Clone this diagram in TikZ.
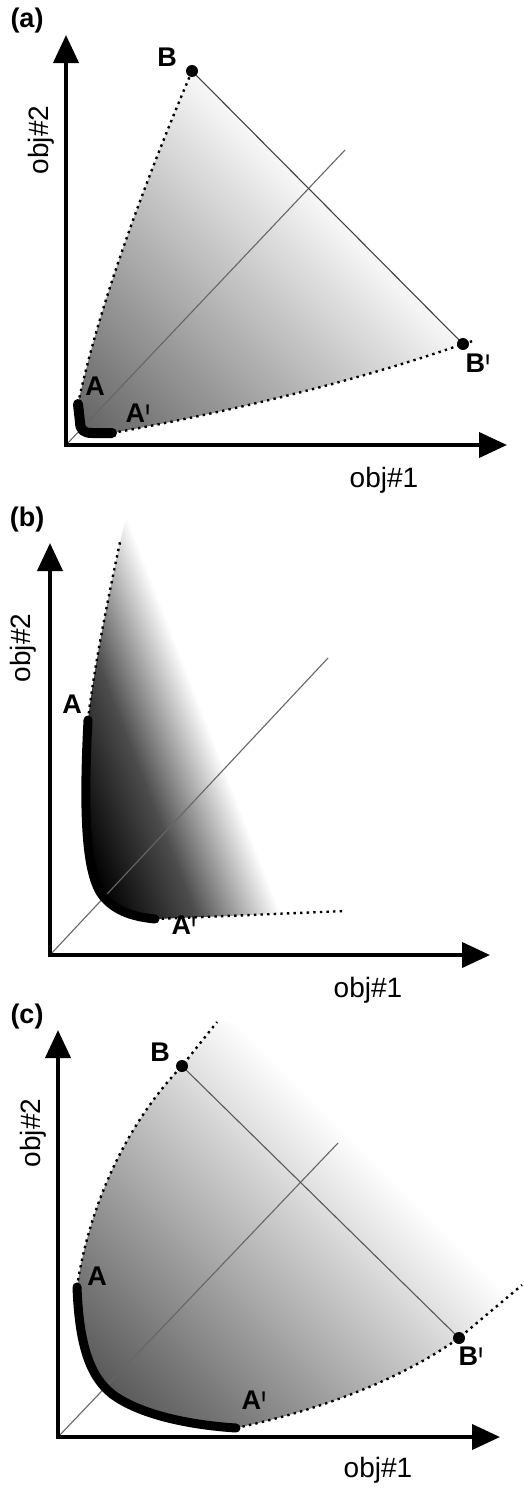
\documentclass[tikz,border=0pt]{standalone}
\usepackage{fontspec}
\usepackage{graphicx}
\setmainfont{Liberation Sans}
\usetikzlibrary{arrows.meta}
\newcommand\pmk{{\mdseries\raisebox{-0.5em}{\scalebox{1}[1.7]{\textquotesingle}}}}
\tikzset{
  axis/.style={line width=4pt,{Triangle[width=25pt,length=28pt]}-{Triangle[width=25pt,length=28pt]}},
  pareto/.style={line width=9pt,line cap=round,line join=round,black},
  bound/.style={line width=2.4pt,black,dash pattern=on 2.4pt off 4.2pt},
  guide/.style={line width=1.1pt,black!60},
  bdot/.style={circle,fill=black,inner sep=0pt,minimum size=12pt},
  lab/.style={font=\fontsize{27}{27}\selectfont\bfseries,inner sep=0pt},
  objlab/.style={font=\fontsize{28}{28}\selectfont,inner sep=0pt}
}
\begin{document}
\begin{tikzpicture}[x=1pt,y=-1pt]
\useasboundingbox (0,0) rectangle (523,1491);
% (a)
\coordinate (o1) at (66,445);
\coordinate (Y1) at (66,35);
\coordinate (X1) at (507,445);
\coordinate (A1) at (78,404);
\coordinate (A1p) at (112,433);
\coordinate (B1) at (192,71);
\coordinate (B1p) at (463,344);
\coordinate (E1) at (473,341);
\coordinate (D1) at (345,150);
\begin{scope}
\clip (A1) .. controls (100,300) and (150,170) .. (B1) -- (B1p) .. controls (360,380) and (230,412) .. (A1p) -- (92,433) .. controls (84,433) and (80,430) .. (80,422) -- cycle;
\shade[transform canvas={shift={(o1)},rotate=45},left color=black!65,right color=white] (0,-500) rectangle (370,500);
\end{scope}
\draw[guide] (o1) -- (D1);
\draw[guide,black!75] (B1) -- (B1p);
\draw[bound] (A1) .. controls (100,300) and (150,170) .. (B1);
\draw[bound] (A1p) .. controls (230,412) and (360,380) .. (B1p) -- (E1);
\draw[pareto,line width=10pt] (A1) -- (80,422) .. controls (80,430) and (84,433) .. (92,433) -- (A1p);
\draw[axis] (Y1) |- (X1);
\node[bdot] (b1) at (B1) {};
\node[bdot] (b1p) at (B1p) {};
\node[lab] (tA1) at (95,386) {A};
\node[lab] (tA1p) at (138,420) {A\pmk};
\node[lab] (tB1) at (167,57) {B};
\node[lab] (tB1p) at (478,370) {B\pmk};
\node[lab] (pa) at (27,21) {(a)};
\node[objlab] (f1a) at (384,480) {obj\#1};
\node[objlab,rotate=90] (f2a) at (41,140) {obj\#2};
% (b)
\coordinate (o2) at (50,955);
\coordinate (Y2) at (50,543);
\coordinate (X2) at (490,955);
\coordinate (A2) at (88,720);
\coordinate (A2p) at (155,919);
\coordinate (T2) at (120,542);
\coordinate (E2) at (345,911);
\coordinate (D2) at (328,658);
\begin{scope}
\clip (127,515) -- (T2) .. controls (110,590) and (95,660) .. (A2) .. controls (84,800) and (84,870) .. (102,895) .. controls (115,912) and (135,917) .. (A2p) -- (E2) -- (345,515) -- cycle;
\shade[transform canvas={shift={(127,517)},rotate=201.2},left color=white,right color=black,middle color=black!70] (0,-700) rectangle (160,700);
\fill[transform canvas={shift={(127,517)},rotate=201.2},black] (159,-700) rectangle (400,700);
\end{scope}
\draw[guide] (o2) -- (D2);
\draw[bound] (A2) .. controls (95,660) and (110,590) .. (T2);
\draw[bound] (A2p) -- (E2);
\draw[pareto] (A2) .. controls (84,800) and (84,870) .. (102,895) .. controls (115,912) and (135,917) .. (A2p);
\draw[axis] (Y2) |- (X2);
\node[lab] (tA2) at (72,704) {A};
\node[lab] (tA2p) at (184,932) {A\pmk};
\node[lab] (pb) at (27,520) {(b)};
\node[objlab] (f1b) at (368,990) {obj\#1};
\node[objlab,rotate=90] (f2b) at (23,648) {obj\#2};
% (c)
\coordinate (o3) at (58,1437);
\coordinate (Y3) at (58,1030);
\coordinate (X3) at (500,1437);
\coordinate (A3) at (77,1287);
\coordinate (A3p) at (236,1428);
\coordinate (B3) at (182,1066);
\coordinate (B3p) at (459,1338);
\coordinate (T3) at (217,1022);
\coordinate (E3) at (522,1285);
\coordinate (D3) at (338,1143);
\begin{scope}
\clip (A3) .. controls (90,1200) and (130,1120) .. (B3) -- (T3) -- (523,990) -- (E3) -- (B3p) .. controls (400,1380) and (320,1410) .. (A3p) .. controls (190,1425) and (140,1415) .. (112,1394) .. controls (88,1375) and (79,1340) .. (A3) -- cycle;
\shade[transform canvas={shift={(o3)},rotate=45},left color=black!78,right color=white] (0,-500) rectangle (420,500);
\end{scope}
\draw[guide] (o3) -- (D3);
\draw[guide,black!65] (B3) -- (B3p);
\draw[bound] (A3) .. controls (90,1200) and (130,1120) .. (B3) -- (T3);
\draw[bound] (A3p) .. controls (320,1410) and (400,1380) .. (B3p) -- (E3);
\draw[pareto] (A3) .. controls (79,1340) and (88,1375) .. (112,1394) .. controls (140,1415) and (190,1425) .. (A3p);
\draw[axis] (Y3) |- (X3);
\node[bdot] (b3) at (B3) {};
\node[bdot] (b3p) at (B3p) {};
\node[lab] (tA3) at (97,1276) {A};
\node[lab] (tA3p) at (254,1407) {A\pmk};
\node[lab] (tB3) at (160,1052) {B};
\node[lab] (tB3p) at (471,1363) {B\pmk};
\node[lab] (pc) at (27,1017) {(c)};
\node[objlab] (f1c) at (378,1470) {obj\#1};
\node[objlab,rotate=90] (f2c) at (33,1133) {obj\#2};
\end{tikzpicture}
\end{document}
